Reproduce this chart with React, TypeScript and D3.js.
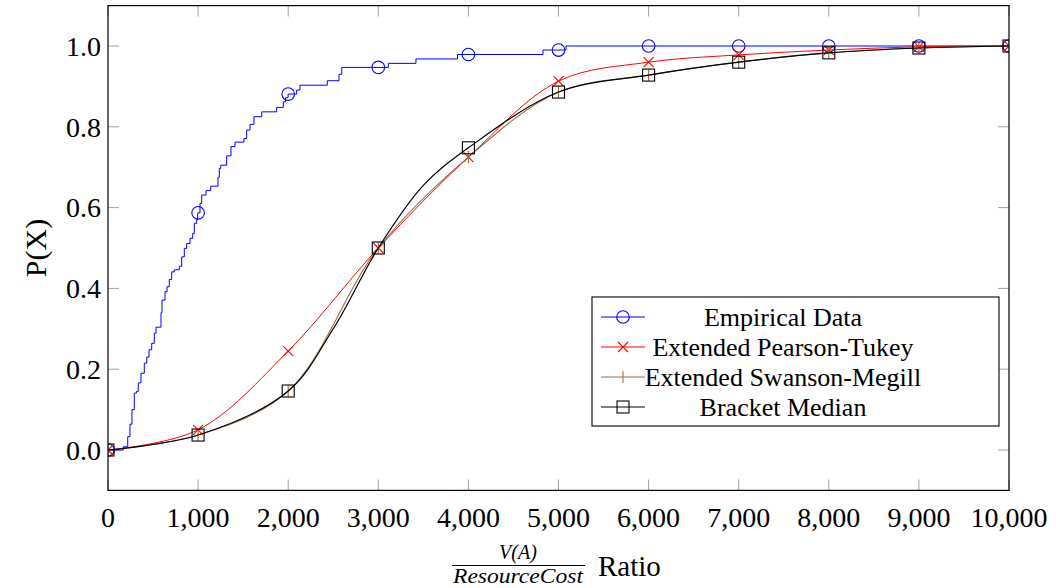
import React from "react";
import * as d3 from "d3";

// ---------- data ----------
const xTicks = [0, 1000, 2000, 3000, 4000, 5000, 6000, 7000, 8000, 9000, 10000];
const yTicks = [0, 0.2, 0.4, 0.6, 0.8, 1.0];
const markerX = [0, 1000, 2000, 3000, 4000, 5000, 6000, 7000, 8000, 9000, 10000];

// Empirical CDF (step function), value jumps at each x
const empiricalX = [0, 170, 219, 244, 266, 292, 316, 336, 366, 403, 430, 455, 485, 514, 533, 588, 599, 633, 655, 680, 707, 736, 791, 818, 847, 873, 910, 940, 958, 984, 995, 1021, 1040, 1088, 1140, 1221, 1235, 1251, 1317, 1365, 1410, 1509, 1539, 1576, 1620, 1706, 1872, 1946, 1970, 1998, 2094, 2131, 2434, 2564, 2594, 3111, 3418, 3879, 4828, 5083, 10000];
const empiricalP = [0, 0.008, 0.033, 0.064, 0.1, 0.141, 0.145, 0.166, 0.19, 0.215, 0.23, 0.248, 0.264, 0.289, 0.304, 0.34, 0.371, 0.392, 0.404, 0.422, 0.441, 0.446, 0.455, 0.478, 0.499, 0.511, 0.524, 0.536, 0.561, 0.571, 0.587, 0.61, 0.631, 0.642, 0.653, 0.675, 0.697, 0.705, 0.728, 0.751, 0.762, 0.771, 0.792, 0.806, 0.825, 0.837, 0.848, 0.862, 0.872, 0.881, 0.891, 0.903, 0.914, 0.93, 0.947, 0.957, 0.968, 0.979, 0.99, 1.0, 1.0];

const pearsonTukeyX = [0, 1000, 2000, 3000, 4000, 5000, 6000, 7000, 8000, 9000, 10000];
const pearsonTukeyP = [0, 0.05, 0.245, 0.5, 0.725, 0.913, 0.96, 0.978, 0.99, 0.998, 1];

const swansonMegillX = [0, 1000, 2000, 3000, 4000, 5000, 6000, 7000, 8000, 9000, 10000];
const swansonMegillP = [0, 0.037, 0.146, 0.5, 0.725, 0.886, 0.928, 0.96, 0.983, 0.995, 1];

const bracketX = [0, 1000, 2000, 2500, 3000, 3500, 4000, 5000, 6000, 7000, 8000, 9000, 10000];
const bracketP = [0, 0.037, 0.146, 0.3, 0.5, 0.655, 0.748, 0.886, 0.928, 0.96, 0.983, 0.995, 1];

const legendLabels = ["Empirical Data", "Extended Pearson-Tukey", "Extended Swanson-Megill", "Bracket Median"];

// ---------- layout ----------
const W = 1056;
const H = 588;
const L = 108, R = 1009, T = 5.6, B = 490.4;
const FONT = "'Liberation Serif', 'DejaVu Serif', serif";
const BLUE = "#0000ff";
const RED = "#ff0000";
const BROWN = "#9a6e45";
const BLACK = "#000000";

const x = d3.scaleLinear().domain([0, 10000]).range([L, R]);
const y = d3.scaleLinear().domain([-0.1, 1.1]).range([B, T]);

type Pt = [number, number];
const zip = (xs: number[], ys: number[]): Pt[] => xs.map((v, i) => [v, ys[i]]);

const stepLine = d3.line<Pt>().x(d => x(d[0])).y(d => y(d[1])).curve(d3.curveStepAfter);
const smoothLine = d3.line<Pt>().x(d => x(d[0])).y(d => y(d[1])).curve(d3.curveCatmullRom.alpha(0.5));

const empiricalPts = zip(empiricalX, empiricalP);
const empiricalAt = (v: number) => {
  const i = d3.bisectRight(empiricalX, v) - 1;
  return empiricalP[Math.max(0, i)];
};
const markersFrom = (xs: number[], ys: number[]): Pt[] =>
  markerX.filter(m => xs.includes(m)).map(m => [m, ys[xs.indexOf(m)]]);

function Circle({ cx, cy, c }: { cx: number; cy: number; c: string }) {
  return <circle cx={cx} cy={cy} r={6.3} fill="none" stroke={c} strokeWidth={1.1} />;
}
function Cross({ cx, cy, c }: { cx: number; cy: number; c: string }) {
  const s = 5;
  return <path d={`M${cx - s},${cy - s}L${cx + s},${cy + s}M${cx - s},${cy + s}L${cx + s},${cy - s}`} stroke={c} strokeWidth={1.1} fill="none" />;
}
function Bar({ cx, cy, c }: { cx: number; cy: number; c: string }) {
  return <path d={`M${cx},${cy - 6}L${cx},${cy + 6}`} stroke={c} strokeWidth={1.1} fill="none" />;
}
function Square({ cx, cy, c }: { cx: number; cy: number; c: string }) {
  const s = 6;
  return <rect x={cx - s} y={cy - s} width={2 * s} height={2 * s} fill="none" stroke={c} strokeWidth={1.1} />;
}

export default function App() {
  const empMarkers: Pt[] = markerX.map(m => [m, empiricalAt(m)]);
  const ptMarkers = markersFrom(pearsonTukeyX, pearsonTukeyP);
  const smMarkers = markersFrom(swansonMegillX, swansonMegillP);
  const bmMarkers = markersFrom(bracketX, bracketP);

  const legX = 592, legY = 297, legW = 407, legH = 129;
  const rowY = [317, 347, 377, 407];
  const sampleL = 601, sampleR = 645, sampleC = 623, textC = 783;

  return (
    <svg width={W} height={H} style={{ position: "absolute", left: 0, top: 0, background: "#fff" }} fontFamily={FONT}>
      <defs>
        <clipPath id="plot">
          <rect x={L} y={T} width={R - L} height={B - T} />
        </clipPath>
      </defs>

      {/* ticks */}
      {xTicks.map(t => (
        <g key={"xt" + t}>
          <line x1={x(t)} x2={x(t)} y1={B} y2={B - 11} stroke="#a0a0a0" strokeWidth={1} />
          <line x1={x(t)} x2={x(t)} y1={T} y2={T + 11} stroke="#a0a0a0" strokeWidth={1} />
          <text x={x(t)} y={527} fontSize={28} textAnchor="middle" fill="#000">{d3.format(",")(t)}</text>
        </g>
      ))}
      {yTicks.map(t => (
        <g key={"yt" + t}>
          <line x1={L} x2={L + 11} y1={y(t)} y2={y(t)} stroke="#a0a0a0" strokeWidth={1} />
          <line x1={R} x2={R - 11} y1={y(t)} y2={y(t)} stroke="#a0a0a0" strokeWidth={1} />
          <text x={101} y={y(t)} dy="0.35em" fontSize={28} textAnchor="end" fill="#000">{d3.format(".1f")(t)}</text>
        </g>
      ))}

      <g clipPath="url(#plot)">
        <path d={stepLine(empiricalPts) || ""} fill="none" stroke={BLUE} strokeWidth={1} />
        {empMarkers.map((d, i) => <Circle key={"e" + i} cx={x(d[0])} cy={y(d[1])} c={BLUE} />)}

        <path d={smoothLine(zip(pearsonTukeyX, pearsonTukeyP)) || ""} fill="none" stroke={RED} strokeWidth={1} />
        {ptMarkers.map((d, i) => <Cross key={"p" + i} cx={x(d[0])} cy={y(d[1])} c={RED} />)}

        <path d={smoothLine(zip(swansonMegillX, swansonMegillP)) || ""} fill="none" stroke={BROWN} strokeWidth={1.1} />
        {smMarkers.map((d, i) => <Bar key={"s" + i} cx={x(d[0])} cy={y(d[1])} c={BROWN} />)}

        <path d={smoothLine(zip(bracketX, bracketP)) || ""} fill="none" stroke={BLACK} strokeWidth={1.2} />
        {bmMarkers.map((d, i) => <Square key={"b" + i} cx={x(d[0])} cy={y(d[1])} c={BLACK} />)}
      </g>

      {/* axis box */}
      <rect x={L} y={T} width={R - L} height={B - T} fill="none" stroke="#000" strokeWidth={1.2} />

      {/* legend */}
      <rect x={legX} y={legY} width={legW} height={legH} fill="#fff" stroke="#000" strokeWidth={1.1} />
      {[BLUE, RED, BROWN, BLACK].map((c, i) => (
        <g key={"lg" + i}>
          <line x1={sampleL} x2={sampleR} y1={rowY[i]} y2={rowY[i]} stroke={c} strokeWidth={1.1} />
          {i === 0 && <Circle cx={sampleC} cy={rowY[i]} c={c} />}
          {i === 1 && <Cross cx={sampleC} cy={rowY[i]} c={c} />}
          {i === 2 && <Bar cx={sampleC} cy={rowY[i]} c={c} />}
          {i === 3 && <Square cx={sampleC} cy={rowY[i]} c={c} />}
          <text x={textC} y={rowY[i]} dy="0.33em" fontSize={26} textAnchor="middle" fill="#000">{legendLabels[i]}</text>
        </g>
      ))}

      {/* y label */}
      <text transform="translate(46,248) rotate(-90)" fontSize={30} textAnchor="middle" fill="#000">P(X)</text>

      {/* x label */}
      <text x={518} y={559} fontSize={20} fontStyle="italic" textAnchor="middle" fill="#000">V(A)</text>
      <line x1={452} x2={585} y1={565.5} y2={565.5} stroke="#000" strokeWidth={1} />
      <text x={518} y={583} fontSize={20} fontStyle="italic" textAnchor="middle" fill="#000" textLength={130} lengthAdjust="spacingAndGlyphs">ResourceCost</text>
      <text x={598} y={576} fontSize={29} fill="#000">Ratio</text>
    </svg>
  );
}
